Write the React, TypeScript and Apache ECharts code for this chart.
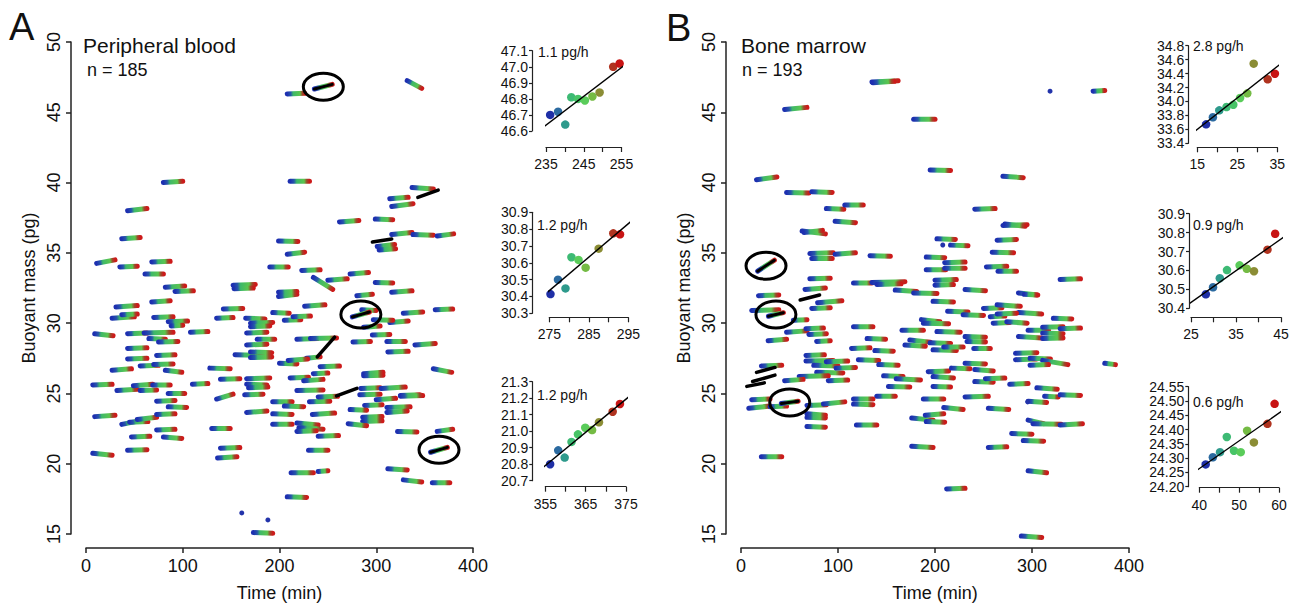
import React, { useEffect, useRef } from "react";
import * as echarts from "echarts";

const FONT = '"Liberation Sans", Arial, Helvetica, sans-serif';
const INK = "#111111";

// ---------- main panels: axis ticks ----------
const mainTimeRange = [0, 400, 100];
const mainMassRange = [15, 50, 5];

// ---------- main panels: tracks [tStart, tEnd, massStart, massEnd] ----------
const tracksA: number[][] = [
  [208, 226, 46.3, 46.35], [332, 347, 47.25, 46.7], [80, 100, 40.0, 40.1], [211, 231, 40.1, 40.1],
  [43, 63, 38.0, 38.15], [37, 56, 36.0, 36.1], [11, 30, 34.25, 34.5], [35, 53, 34.0, 34.05],
  [68, 87, 34.35, 34.4], [61, 80, 33.5, 33.5], [82, 102, 32.55, 32.65], [92, 111, 32.25, 32.3],
  [152, 175, 32.7, 32.75], [153, 173, 32.45, 32.5], [262, 282, 37.2, 37.3], [299, 317, 37.4, 37.35],
  [314, 333, 38.85, 38.95], [316, 338, 38.3, 38.5], [337, 359, 39.65, 39.55], [301, 319, 35.45, 35.6],
  [303, 320, 35.2, 35.3], [316, 337, 36.3, 36.45], [338, 359, 36.3, 36.25], [363, 380, 36.2, 36.35],
  [199, 219, 35.85, 35.8], [208, 226, 34.9, 35.05], [190, 209, 34.0, 34.0], [223, 242, 33.75, 33.8],
  [235, 255, 33.25, 32.4], [250, 270, 33.05, 33.15], [273, 292, 33.5, 33.6], [299, 317, 32.9, 32.85],
  [316, 337, 32.2, 32.3], [280, 296, 31.95, 32.05], [199, 218, 31.9, 32.05], [199, 218, 32.2, 32.25],
  [31, 53, 31.15, 31.25], [68, 87, 31.5, 31.6], [27, 50, 30.35, 30.45], [37, 53, 30.6, 30.65],
  [70, 90, 30.4, 30.45], [85, 105, 30.1, 30.15], [88, 100, 29.8, 29.85], [108, 126, 29.35, 29.4],
  [9, 28, 29.25, 29.1], [43, 63, 29.25, 29.3], [60, 90, 29.3, 29.35], [65, 82, 28.9, 28.85],
  [75, 95, 28.65, 28.7], [43, 63, 28.2, 28.25], [43, 63, 27.45, 27.5], [73, 92, 27.7, 27.75],
  [56, 75, 26.95, 27.0], [70, 90, 27.05, 27.1], [27, 47, 26.65, 26.75], [82, 99, 26.65, 26.5],
  [7, 27, 25.6, 25.65], [32, 53, 25.2, 25.3], [49, 69, 25.55, 25.65], [56, 73, 25.2, 25.25],
  [69, 87, 25.6, 25.6], [85, 102, 25.0, 25.0], [73, 92, 24.45, 24.5], [85, 104, 24.05, 24.0],
  [9, 30, 23.35, 23.45], [37, 55, 22.8, 23.05], [45, 64, 22.95, 23.0], [53, 73, 23.15, 23.3],
  [73, 92, 23.5, 23.55], [73, 92, 22.4, 22.45], [47, 66, 21.9, 21.95], [80, 99, 21.9, 21.8],
  [7, 27, 20.75, 20.6], [43, 63, 20.95, 21.0], [110, 126, 25.65, 25.7], [128, 149, 26.8, 26.75],
  [135, 152, 24.6, 24.95], [139, 159, 26.0, 26.05], [130, 149, 22.5, 22.5], [139, 159, 21.1, 21.15],
  [136, 156, 20.4, 20.5], [135, 152, 30.35, 30.4], [142, 162, 31.0, 31.05], [165, 185, 30.35, 30.3],
  [170, 193, 30.0, 30.05], [166, 187, 29.3, 29.35], [170, 190, 29.75, 29.8], [177, 195, 28.85, 28.85],
  [166, 187, 28.45, 28.5], [154, 183, 27.75, 27.7], [170, 192, 27.95, 27.9], [170, 192, 27.55, 27.6],
  [166, 190, 26.05, 26.1], [166, 187, 25.65, 25.6], [168, 188, 25.4, 25.45], [164, 183, 24.9, 24.95],
  [166, 187, 23.65, 23.75], [173, 193, 15.1, 15.05], [193, 210, 30.75, 30.7], [205, 222, 30.2, 30.25],
  [214, 232, 30.45, 30.5], [226, 247, 31.2, 31.3], [218, 239, 28.85, 28.9], [232, 259, 28.9, 28.95],
  [228, 242, 27.5, 27.6], [200, 218, 27.15, 27.1], [209, 229, 27.35, 27.45], [242, 262, 26.9, 26.95],
  [211, 230, 26.1, 26.15], [225, 245, 25.9, 26.0], [235, 250, 26.4, 26.45], [218, 245, 25.2, 25.25],
  [193, 213, 24.4, 24.4], [205, 225, 24.1, 24.05], [231, 252, 24.4, 24.45], [240, 260, 24.75, 24.8],
  [193, 213, 23.55, 23.5], [193, 213, 22.8, 22.8], [234, 257, 23.5, 23.6], [218, 240, 22.9, 22.75],
  [220, 245, 22.55, 22.45], [218, 238, 22.3, 22.35], [240, 261, 21.95, 22.0], [230, 250, 20.95, 20.95],
  [212, 235, 19.35, 19.35], [240, 250, 19.45, 19.5], [208, 228, 17.65, 17.6], [287, 304, 29.7, 29.8],
  [276, 294, 28.65, 28.7], [287, 307, 26.4, 26.5], [287, 307, 26.25, 26.3], [296, 314, 29.15, 29.2],
  [311, 330, 28.7, 28.7], [312, 333, 27.95, 28.0], [314, 333, 30.05, 30.15], [328, 348, 30.7, 30.8],
  [361, 379, 30.95, 31.0], [340, 361, 28.45, 28.55], [359, 378, 26.75, 26.5], [283, 304, 24.9, 24.95],
  [284, 304, 25.35, 25.4], [305, 330, 25.35, 25.45], [325, 345, 24.85, 24.9], [300, 320, 24.55, 24.65],
  [325, 348, 24.8, 24.85], [288, 306, 24.15, 24.2], [273, 290, 23.85, 23.8], [311, 335, 24.0, 24.05],
  [311, 332, 23.65, 23.75], [286, 306, 23.3, 23.35], [286, 306, 23.0, 23.05], [271, 290, 22.85, 22.7],
  [322, 342, 22.3, 22.25], [363, 379, 22.3, 22.45], [312, 332, 19.65, 19.55], [328, 347, 18.85, 18.7],
  [358, 376, 18.65, 18.65], [297, 317, 30.25, 30.2], [285, 300, 30.95, 30.9],
];
const blackTracksA: number[][] = [
  [343, 364, 38.95, 39.47], [296, 316, 35.77, 35.98], [239, 257, 27.6, 29.0], [259, 280, 24.82, 25.36],
];
const singlesA: number[][] = [[161, 16.5], [188, 16.0]];

const tracksB: number[][] = [
  [135, 162, 47.15, 47.25], [136, 158, 47.1, 47.2], [363, 375, 46.5, 46.55], [45, 68, 45.2, 45.35],
  [178, 200, 44.5, 44.5], [16, 37, 40.2, 40.4], [195, 216, 40.9, 40.85], [270, 291, 40.45, 40.35],
  [47, 70, 39.3, 39.25], [73, 94, 39.35, 39.3], [88, 106, 38.15, 38.1], [107, 126, 38.4, 38.4],
  [241, 262, 38.1, 38.15], [97, 118, 37.25, 37.15], [270, 295, 36.95, 37.0], [272, 293, 37.05, 36.9],
  [63, 87, 36.55, 36.35], [65, 84, 36.45, 36.6], [202, 221, 36.0, 35.95], [216, 234, 35.55, 35.5],
  [264, 284, 35.9, 35.95], [259, 281, 35.05, 35.0], [71, 95, 34.95, 35.0], [97, 118, 34.9, 35.0],
  [133, 154, 34.8, 34.75], [73, 94, 34.6, 34.6], [191, 210, 34.7, 34.65], [210, 231, 34.3, 34.35],
  [253, 274, 34.0, 34.05], [191, 211, 33.8, 33.8], [210, 231, 33.9, 33.9], [265, 284, 33.7, 33.7],
  [329, 350, 33.1, 33.15], [71, 92, 33.15, 33.2], [116, 135, 32.85, 32.85], [135, 169, 32.9, 32.95],
  [140, 165, 32.75, 32.8], [200, 222, 33.05, 33.1], [200, 219, 32.7, 32.75], [231, 252, 32.4, 32.3],
  [159, 181, 32.35, 32.25], [178, 202, 32.15, 32.1], [286, 306, 32.15, 32.0], [18, 39, 31.95, 32.0],
  [66, 87, 32.4, 32.5], [79, 104, 31.45, 31.6], [73, 92, 31.05, 31.1], [11, 39, 30.9, 30.95],
  [47, 68, 29.35, 29.45], [67, 85, 29.6, 29.65], [70, 88, 29.2, 29.25], [78, 92, 28.7, 28.75],
  [28, 47, 28.75, 28.85], [54, 68, 30.2, 30.25], [67, 86, 27.7, 27.75], [67, 95, 27.3, 27.35],
  [75, 100, 27.0, 26.95], [78, 105, 26.5, 26.45], [60, 90, 26.2, 26.25], [90, 110, 25.9, 25.95],
  [88, 110, 27.25, 27.3], [98, 118, 26.8, 26.85], [45, 64, 25.9, 26.0], [21, 42, 26.95, 27.0],
  [11, 30, 24.55, 24.6], [8, 30, 23.95, 24.1], [30, 47, 24.05, 24.1], [68, 88, 24.15, 24.2],
  [85, 107, 24.25, 24.4], [68, 87, 23.55, 23.45], [68, 87, 23.3, 23.25], [68, 87, 22.65, 22.6],
  [21, 42, 20.5, 20.5], [116, 136, 29.75, 29.75], [130, 149, 28.9, 28.85], [114, 133, 28.2, 28.25],
  [138, 157, 28.05, 28.0], [121, 142, 27.4, 27.35], [142, 162, 27.05, 27.0], [147, 167, 26.25, 26.2],
  [152, 174, 25.5, 25.45], [160, 185, 26.05, 25.95], [140, 159, 24.8, 24.8], [116, 136, 24.6, 24.6],
  [116, 136, 24.25, 24.2], [119, 140, 22.75, 22.75], [166, 188, 29.5, 29.5], [174, 195, 28.8, 28.65],
  [169, 190, 28.45, 28.35], [186, 205, 30.25, 30.1], [188, 214, 30.0, 29.95], [198, 219, 31.55, 31.5],
  [202, 226, 29.4, 29.35], [195, 216, 28.6, 28.55], [198, 222, 28.1, 28.05], [209, 229, 28.3, 28.3],
  [213, 234, 30.85, 30.8], [229, 250, 30.6, 30.55], [231, 252, 29.05, 29.0], [233, 252, 28.7, 28.65],
  [240, 257, 28.2, 28.2], [193, 214, 26.55, 26.6], [198, 219, 26.2, 26.1], [198, 216, 25.5, 25.45],
  [188, 209, 24.6, 24.6], [209, 229, 24.0, 23.85], [176, 198, 23.25, 23.1], [191, 210, 23.0, 22.95],
  [190, 209, 23.45, 23.55], [217, 236, 26.8, 26.75], [231, 252, 27.15, 27.1], [241, 260, 26.7, 26.6],
  [241, 260, 25.85, 25.8], [252, 272, 26.05, 26.1], [231, 255, 24.75, 24.8], [176, 198, 21.25, 21.15],
  [212, 231, 18.2, 18.25], [255, 274, 21.15, 21.2], [255, 276, 23.95, 23.85], [250, 269, 31.05, 31.1],
  [264, 288, 31.3, 31.2], [257, 272, 30.45, 30.5], [260, 277, 30.0, 30.05], [274, 295, 30.1, 30.0],
  [286, 310, 30.75, 30.65], [286, 310, 29.05, 28.95], [296, 317, 29.5, 29.5], [311, 332, 29.7, 29.75],
  [311, 332, 29.3, 29.25], [311, 332, 28.9, 28.95], [322, 341, 30.35, 30.3], [329, 350, 29.6, 29.65],
  [283, 305, 27.85, 27.9], [283, 305, 27.4, 27.45], [298, 319, 27.5, 27.45], [311, 337, 27.35, 27.05],
  [298, 317, 27.0, 27.05], [277, 296, 25.65, 25.7], [305, 326, 25.4, 25.3], [313, 327, 24.8, 24.75],
  [296, 315, 24.45, 24.35], [329, 350, 24.9, 24.85], [296, 312, 23.1, 22.85], [301, 330, 22.85, 22.8],
  [329, 352, 22.75, 22.85], [279, 300, 22.15, 22.1], [291, 312, 21.65, 21.6], [296, 315, 19.5, 19.35],
  [289, 310, 14.85, 14.75], [375, 386, 27.15, 27.05], [292, 305, 32.05, 32.0], [264, 284, 30.65, 30.7],
];
const blackTracksB: number[][] = [
  [61, 81, 31.65, 32.0], [16, 35, 26.5, 26.85], [12, 35, 25.85, 26.3], [6, 24, 25.5, 25.75],
];
const singlesB: number[][] = [[318.6, 46.5], [208, 35.56], [295.5, 24.4]];

// ---------- insets: single-cell growth traces ----------
const insetA1Time = [236.1, 238.2, 240.1, 241.7, 243.5, 245.3, 247.3, 249.2, 252.8, 254.5];
const insetA1Mass = [46.7, 46.72, 46.64, 46.81, 46.8, 46.79, 46.815, 46.84, 47.0, 47.02];
const insetA2Time = [275.3, 277.2, 279.1, 280.6, 282.4, 284.2, 287.5, 291.2, 292.9];
const insetA2Mass = [30.414, 30.5, 30.448, 30.633, 30.617, 30.571, 30.684, 30.775, 30.769];
const insetA3Time = [356.2, 358.2, 359.8, 361.5, 363.1, 364.9, 366.6, 368.3, 371.7, 373.5];
const insetA3Mass = [20.8, 20.884, 20.84, 20.935, 20.981, 21.021, 21.007, 21.054, 21.118, 21.165];
const insetB1Time = [17.2, 18.9, 20.5, 22.3, 24.0, 25.7, 27.5, 29.1, 32.6, 34.4];
const insetB1Mass = [33.672, 33.773, 33.873, 33.92, 33.953, 34.05, 34.117, 34.542, 34.318, 34.398];
const insetB2Time = [28.3, 29.9, 31.4, 33.0, 35.8, 37.4, 39.0, 42.0, 43.7];
const insetB2Mass = [30.474, 30.511, 30.559, 30.602, 30.627, 30.609, 30.596, 30.71, 30.794];
const insetB3Time = [41.6, 43.4, 45.2, 46.9, 48.7, 50.4, 52.0, 53.7, 57.1, 58.9];
const insetB3Mass = [24.278, 24.303, 24.321, 24.374, 24.326, 24.321, 24.396, 24.355, 24.42, 24.49];

const insetTimeTicks = [[235, 255, 5], [275, 295, 5], [355, 375, 5], [15, 35, 5], [25, 45, 5], [40, 60, 5]];
const insetMassTicks = [[46.6, 47.1, 0.1], [30.3, 30.9, 0.1], [20.7, 21.3, 0.1], [33.4, 34.8, 0.2], [30.4, 30.9, 0.1], [24.2, 24.55, 0.05]];
const insetMassDigits = [1, 1, 1, 1, 1, 2];
const insetRateLabels = ["1.1 pg/h", "1.2 pg/h", "1.2 pg/h", "2.8 pg/h", "0.9 pg/h", "0.6 pg/h"];

// ---------- layout (pixels) ----------
const insetLayout = [
  { left: 546, top: 50.7, width: 75.5, height: 80.3, yOff: 14, xOff: 16, right: 637, tx: 538, ty: 52 },
  { left: 549.3, top: 212.3, width: 79, height: 101, yOff: 17, xOff: 4, right: 637, tx: 537, ty: 225 },
  { left: 545.3, top: 381.7, width: 80.7, height: 99, yOff: 13, xOff: 6, right: 637, tx: 537, ty: 395 },
  { left: 1197.3, top: 45.7, width: 80, height: 97.6, yOff: 9, xOff: 4, right: 1293.5, tx: 1193, ty: 46 },
  { left: 1191, top: 213.7, width: 90, height: 94.6, yOff: 2, xOff: 9, right: 1293, tx: 1193, ty: 225 },
  { left: 1199.3, top: 386.7, width: 79.7, height: 100, yOff: 11, xOff: 1, right: 1293.5, tx: 1193, ty: 402 },
];
const mainLayout = [
  { left: 86, top: 42, width: 387, height: 492 },
  { left: 741, top: 42, width: 388, height: 492 },
];

const palette = ["#1f2fa6", "#2b6aa0", "#2e9a8c", "#3dba74", "#47c466", "#5acc5a", "#74bb44", "#8b8d35", "#b0331f", "#c81414"];
const trackStops = [
  { offset: 0, color: "#1d2fb0" },
  { offset: 0.2, color: "#2657aa" },
  { offset: 0.34, color: "#3db86a" },
  { offset: 0.72, color: "#5cc64e" },
  { offset: 0.86, color: "#9a4a2a" },
  { offset: 1, color: "#cc1a1a" },
];

function linFit(ts: number[], ms: number[]) {
  const n = ts.length;
  const mt = ts.reduce((s, v) => s + v, 0) / n;
  const mm = ms.reduce((s, v) => s + v, 0) / n;
  let sxy = 0, sxx = 0;
  for (let i = 0; i < n; i++) {
    sxy += (ts[i] - mt) * (ms[i] - mm);
    sxx += (ts[i] - mt) * (ts[i] - mt);
  }
  const b = sxy / sxx;
  return { a: mm - b * mt, b };
}

function trackItem(_p: any, api: any) {
  const a = api.coord([api.value(0), api.value(2)]);
  const b = api.coord([api.value(1), api.value(3)]);
  return {
    type: "line",
    shape: { x1: a[0], y1: a[1], x2: b[0], y2: b[1] },
    style: {
      stroke: new echarts.graphic.LinearGradient(a[0], a[1], b[0], b[1], trackStops, true),
      lineWidth: 5,
      lineCap: "round",
      fill: null,
    },
  };
}

function highlightItem(_p: any, api: any) {
  const a = api.coord([api.value(0), api.value(2)]);
  const b = api.coord([api.value(1), api.value(3)]);
  const circled = api.value(4) === 1;
  const shape = { x1: a[0], y1: a[1], x2: b[0], y2: b[1] };
  const children: any[] = [];
  if (circled) {
    children.push({
      type: "line",
      shape,
      style: {
        stroke: new echarts.graphic.LinearGradient(a[0], a[1], b[0], b[1], trackStops, true),
        lineWidth: 5,
        lineCap: "round",
      },
    });
  }
  children.push({ type: "line", shape, style: { stroke: "#000", lineWidth: circled ? 3 : 3.5, lineCap: "round" } });
  if (circled) {
    children.push({
      type: "ellipse",
      shape: { cx: (a[0] + b[0]) / 2, cy: (a[1] + b[1]) / 2, rx: 20, ry: 13.5 },
      style: { fill: "none", stroke: "#000", lineWidth: 3 },
    });
  }
  return { type: "group", children };
}

const insetTimes = [insetA1Time, insetA2Time, insetA3Time, insetB1Time, insetB2Time, insetB3Time];
const insetMasses = [insetA1Mass, insetA2Mass, insetA3Mass, insetB1Mass, insetB2Mass, insetB3Mass];

function buildOption() {
  const grid: any[] = [];
  const xAxis: any[] = [];
  const yAxis: any[] = [];
  const series: any[] = [];
  const graphic: any[] = [];

  const fits = insetTimes.map((t, i) => linFit(t, insetMasses[i]));

  // main panels
  mainLayout.forEach((g, k) => {
    grid.push({ left: g.left, top: g.top, width: g.width, height: g.height });
    xAxis.push({
      type: "value", gridIndex: k, min: mainTimeRange[0], max: mainTimeRange[1], interval: mainTimeRange[2],
      offset: 14,
      axisLine: { show: true, onZero: false, lineStyle: { color: "#222", width: 1.5 } },
      axisTick: { show: true, length: 5, lineStyle: { color: "#222", width: 1.5 } },
      axisLabel: { fontSize: 18, color: INK, margin: 9, fontFamily: FONT },
      splitLine: { show: false },
      name: "Time (min)", nameLocation: "middle", nameGap: 36,
      nameTextStyle: { fontSize: 18, color: INK, fontFamily: FONT },
    });
    yAxis.push({
      type: "value", gridIndex: k, min: mainMassRange[0], max: mainMassRange[1], interval: mainMassRange[2],
      offset: 15,
      axisLine: { show: true, onZero: false, lineStyle: { color: "#222", width: 1.5 } },
      axisTick: { show: true, length: 5, lineStyle: { color: "#222", width: 1.5 } },
      axisLabel: { fontSize: 18, color: INK, margin: 8, rotate: 90, fontFamily: FONT },
      splitLine: { show: false },
      name: "Buoyant mass (pg)", nameLocation: "middle", nameGap: 33, nameRotate: 90,
      nameTextStyle: { fontSize: 18, color: INK, fontFamily: FONT },
    });
  });

  const mainTracks = [tracksA, tracksB];
  const mainBlack = [blackTracksA, blackTracksB];
  const mainSingles = [singlesA, singlesB];
  [0, 1].forEach((k) => {
    series.push({
      type: "custom", xAxisIndex: k, yAxisIndex: k, renderItem: trackItem,
      data: mainTracks[k], encode: { x: [0, 1], y: [2, 3] }, silent: true, z: 2,
    });
    series.push({
      type: "scatter", xAxisIndex: k, yAxisIndex: k, data: mainSingles[k], symbolSize: 5,
      itemStyle: { color: "#2233aa", opacity: 1 }, silent: true, z: 2,
    });
    const hl: number[][] = mainBlack[k].map((r) => [r[0], r[1], r[2], r[3], 0]);
    for (let j = 0; j < 3; j++) {
      const idx = k * 3 + j;
      const t = insetTimes[idx];
      const f = fits[idx];
      const t0 = t[0], t1 = t[t.length - 1];
      hl.push([t0, t1, f.a + f.b * t0, f.a + f.b * t1, 1]);
    }
    series.push({
      type: "custom", xAxisIndex: k, yAxisIndex: k, renderItem: highlightItem,
      data: hl, encode: { x: [0, 1], y: [2, 3] }, silent: true, z: 5,
    });
  });

  // insets
  insetLayout.forEach((L, i) => {
    const gi = 2 + i;
    const [x0, x1, xi] = insetTimeTicks[i];
    const [y0, y1, yi] = insetMassTicks[i];
    const d = insetMassDigits[i];
    grid.push({ left: L.left, top: L.top, width: L.width, height: L.height });
    xAxis.push({
      type: "value", gridIndex: gi, min: x0, max: x1, interval: xi, offset: L.xOff,
      axisLine: { show: true, onZero: false, lineStyle: { color: "#222", width: 1.2 } },
      axisTick: { show: true, length: 5, lineStyle: { color: "#222", width: 1.2 } },
      axisLabel: {
        fontSize: 14, color: INK, margin: 10, fontFamily: FONT,
        formatter: (v: number) => (Math.round(v - x0) % 10 === 0 ? String(Math.round(v)) : ""),
      },
      splitLine: { show: false },
    });
    yAxis.push({
      type: "value", gridIndex: gi, min: y0, max: y1, interval: yi, offset: L.yOff,
      axisLine: { show: true, onZero: false, lineStyle: { color: "#222", width: 1.2 } },
      axisTick: { show: true, length: 3, lineStyle: { color: "#222", width: 1.2 } },
      axisLabel: { fontSize: 14, color: INK, margin: 4, fontFamily: FONT, formatter: (v: number) => v.toFixed(d) },
      splitLine: { show: false },
    });
    const t = insetTimes[i];
    const m = insetMasses[i];
    const n = t.length;
    series.push({
      type: "scatter", xAxisIndex: gi, yAxisIndex: gi,
      data: t.map((v, j) => [v, m[j]]),
      symbolSize: 8.5,
      itemStyle: { color: (p: any) => palette[Math.round((p.dataIndex * 9) / (n - 1))], opacity: 1 },
      silent: true, z: 3,
    });
    const f = fits[i];
    const tL = x0 - (L.yOff / L.width) * (x1 - x0);
    const tR = x0 + ((L.right - L.left) / L.width) * (x1 - x0);
    series.push({
      type: "line", xAxisIndex: gi, yAxisIndex: gi, clip: false, symbol: "none",
      data: [[tL, f.a + f.b * tL], [tR, f.a + f.b * tR]],
      lineStyle: { color: "#000", width: 1.4 }, silent: true, z: 4,
    });
    graphic.push({
      type: "text", x: L.tx, y: L.ty,
      style: { text: insetRateLabels[i], fontSize: 14, fontFamily: FONT, fill: INK, verticalAlign: "middle" },
    });
  });

  // panel letters and titles
  const titles = [
    { text: "A", x: 9, y: 27, size: 38 },
    { text: "Peripheral blood", x: 83, y: 45.5, size: 21 },
    { text: "n = 185", x: 87, y: 70, size: 18 },
    { text: "B", x: 666, y: 28, size: 38 },
    { text: "Bone marrow", x: 741, y: 45, size: 21 },
    { text: "n = 193", x: 742, y: 70, size: 18 },
  ];
  titles.forEach((tt) =>
    graphic.push({
      type: "text", x: tt.x, y: tt.y,
      style: { text: tt.text, fontSize: tt.size, fontFamily: FONT, fill: INK, verticalAlign: "middle" },
    })
  );

  return {
    animation: false,
    backgroundColor: "#ffffff",
    textStyle: { fontFamily: FONT },
    grid, xAxis, yAxis, series, graphic,
  };
}

export default function App() {
  const ref = useRef<HTMLDivElement | null>(null);
  useEffect(() => {
    document.body.style.margin = "0";
    if (!ref.current) return;
    const chart = echarts.init(ref.current, undefined, { renderer: "svg" });
    chart.setOption(buildOption() as any);
    return () => chart.dispose();
  }, []);
  return <div ref={ref} style={{ width: 1305, height: 608 }} />;
}
